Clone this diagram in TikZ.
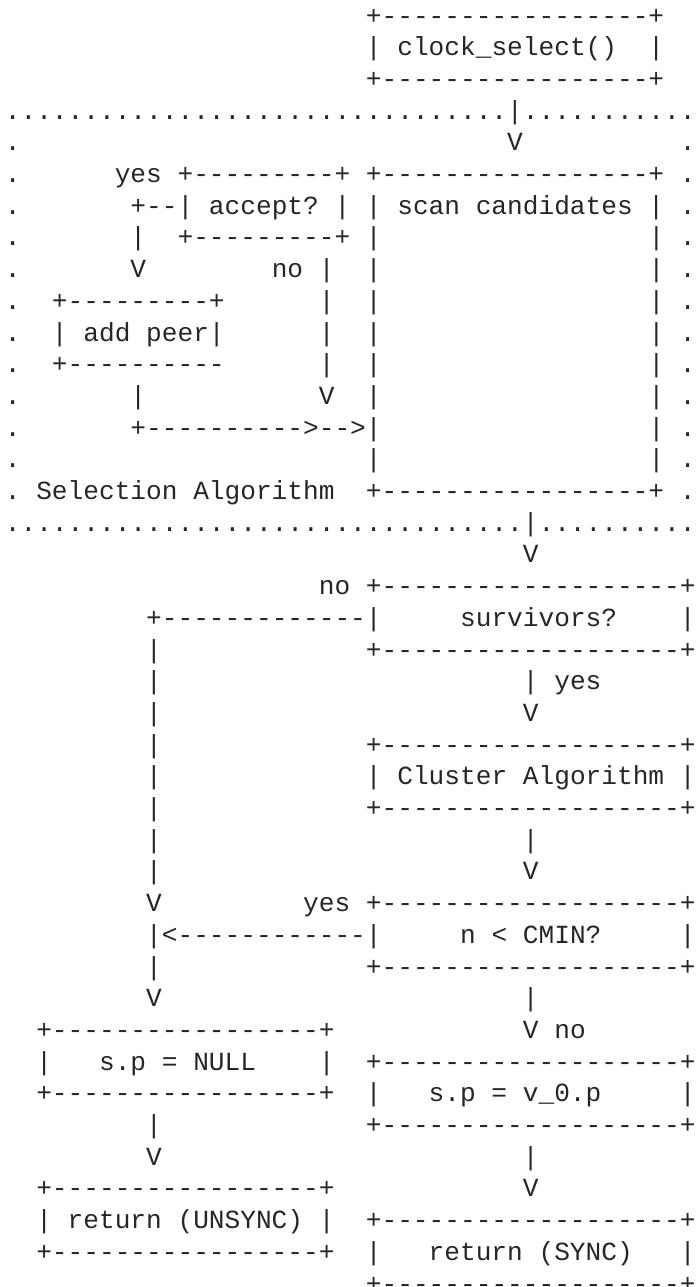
\documentclass[tikz,border=0pt]{standalone}
\usepackage{fontspec}
\setmonofont{Liberation Mono}
\newcommand\asc{\ttfamily\fontsize{13.08pt}{15.85pt}\selectfont\frenchspacing}
\newcommand\sk[1]{\hskip#1\fontdimen2\font\relax}
\begin{document}
\begin{tikzpicture}[x=1pt,y=1pt,
  asc/.style={anchor=base west, inner sep=0pt, outer sep=0pt, font=\asc, text=black!85}]
\fill[white] (0,0) rectangle (348,-643.5);
\useasboundingbox (0,0) rectangle (348,-643.5);
\node[asc] (L1)  at (2.45,-12)     {\sk{23}+-----------------+};
\node[asc] (L2)  at (2.45,-27.85)  {\sk{23}| clock\_select()\sk{2}|};
\node[asc] (L3)  at (2.45,-43.7)   {\sk{23}+-----------------+};
\node[asc] (L4)  at (2.45,-59.55)  {................................|...........};
\node[asc] (L5)  at (2.45,-75.4)   {.\sk{31}V\sk{10}.};
\node[asc] (L6)  at (2.45,-91.25)  {.\sk{6}yes +---------+ +-----------------+ .};
\node[asc] (L7)  at (2.45,-107.1)  {.\sk{7}+--| accept? | | scan candidates | .};
\node[asc] (L8)  at (2.45,-122.95) {.\sk{7}|\sk{2}+---------+ |\sk{17}| .};
\node[asc] (L9)  at (2.45,-138.8)  {.\sk{7}V\sk{8}no |\sk{2}|\sk{17}| .};
\node[asc] (L10) at (2.45,-154.65) {.\sk{2}+---------+\sk{6}|\sk{2}|\sk{17}| .};
\node[asc] (L11) at (2.45,-170.5)  {.\sk{2}| add peer|\sk{6}|\sk{2}|\sk{17}| .};
\node[asc] (L12) at (2.45,-186.35) {.\sk{2}+----------\sk{6}|\sk{2}|\sk{17}| .};
\node[asc] (L13) at (2.45,-202.2)  {.\sk{7}|\sk{11}V\sk{2}|\sk{17}| .};
\node[asc] (L14) at (2.45,-218.05) {.\sk{7}+---------->-->|\sk{17}| .};
\node[asc] (L15) at (2.45,-233.9)  {.\sk{22}|\sk{17}| .};
\node[asc] (L16) at (2.45,-249.75) {. Selection Algorithm\sk{2}+-----------------+ .};
\node[asc] (L17) at (2.45,-265.6)  {.................................|..........};
\node[asc] (L18) at (2.45,-281.45) {\sk{33}V};
\node[asc] (L19) at (2.45,-297.3)  {\sk{20}no +-------------------+};
\node[asc] (L20) at (2.45,-313.15) {\sk{9}+-------------|\sk{5}survivors?\sk{4}|};
\node[asc] (L21) at (2.45,-329.0)  {\sk{9}|\sk{13}+-------------------+};
\node[asc] (L22) at (2.45,-344.85) {\sk{9}|\sk{23}| yes};
\node[asc] (L23) at (2.45,-360.7)  {\sk{9}|\sk{23}V};
\node[asc] (L24) at (2.45,-376.55) {\sk{9}|\sk{13}+-------------------+};
\node[asc] (L25) at (2.45,-392.4)  {\sk{9}|\sk{13}| Cluster Algorithm |};
\node[asc] (L26) at (2.45,-408.25) {\sk{9}|\sk{13}+-------------------+};
\node[asc] (L27) at (2.45,-424.1)  {\sk{9}|\sk{23}|};
\node[asc] (L28) at (2.45,-439.95) {\sk{9}|\sk{23}V};
\node[asc] (L29) at (2.45,-455.8)  {\sk{9}V\sk{9}yes +-------------------+};
\node[asc] (L30) at (2.45,-471.65) {\sk{9}|<------------|\sk{5}n < CMIN?\sk{5}|};
\node[asc] (L31) at (2.45,-487.5)  {\sk{9}|\sk{13}+-------------------+};
\node[asc] (L32) at (2.45,-503.35) {\sk{9}V\sk{23}|};
\node[asc] (L33) at (2.45,-519.2)  {\sk{2}+-----------------+\sk{12}V no};
\node[asc] (L34) at (2.45,-535.05) {\sk{2}|\sk{3}s.p = NULL\sk{4}|\sk{2}+-------------------+};
\node[asc] (L35) at (2.45,-550.9)  {\sk{2}+-----------------+\sk{2}|\sk{3}s.p = v\_0.p\sk{5}|};
\node[asc] (L36) at (2.45,-566.75) {\sk{9}|\sk{13}+-------------------+};
\node[asc] (L37) at (2.45,-582.6)  {\sk{9}V\sk{23}|};
\node[asc] (L38) at (2.45,-598.45) {\sk{2}+-----------------+\sk{12}V};
\node[asc] (L39) at (2.45,-614.3)  {\sk{2}| return (UNSYNC) |\sk{2}+-------------------+};
\node[asc] (L40) at (2.45,-630.15) {\sk{2}+-----------------+\sk{2}|\sk{3}return (SYNC)\sk{3}|};
\node[asc] (L41) at (2.45,-646.0)  {\sk{23}+-------------------+};
\end{tikzpicture}
\end{document}
